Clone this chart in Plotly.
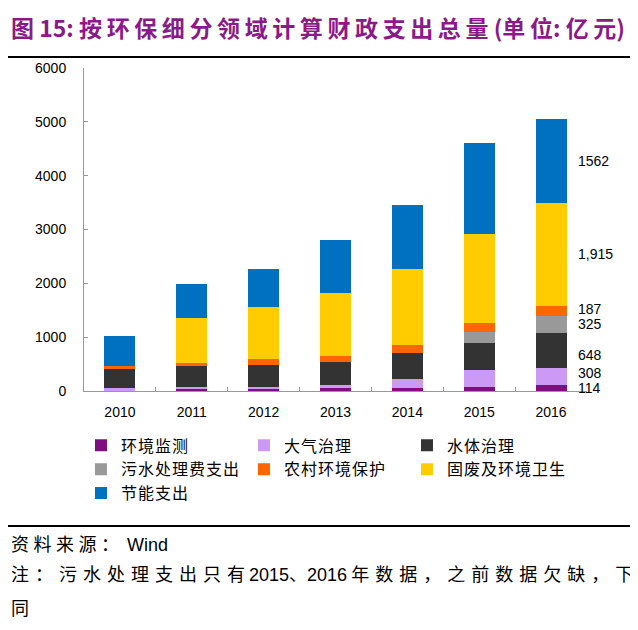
import plotly.graph_objects as go

years = ["2010", "2011", "2012", "2013", "2014", "2015", "2016"]

# 亿元 (2016 from the printed labels)
env_monitor = [18, 30, 50, 55, 65, 75, 114]
air = [32, 45, 25, 65, 160, 310, 308]
water = [355, 395, 415, 420, 480, 510, 648]
sewage_fee = [0, 0, 0, 0, 0, 195, 325]
rural = [55, 55, 110, 110, 155, 165, 187]
solid_waste = [0, 825, 960, 1175, 1410, 1655, 1915]
energy = [557, 640, 715, 980, 1190, 1695, 1562]

labels_2016 = ["114", "308", "648", "325", "187", "1,915", "1562"]
label_nudge = [0, 4, -4, 1, 2, 0, 0]  # px, hand tweaks like the original

series = [
    ("环境监测", env_monitor, "#7F0F80"),
    ("大气治理", air, "#CC99F5"),
    ("水体治理", water, "#333333"),
    ("污水处理费支出", sewage_fee, "#999999"),
    ("农村环境保护", rural, "#FF6600"),
    ("固废及环境卫生", solid_waste, "#FFCC00"),
    ("节能支出", energy, "#0070C0"),
]

CJK = "Noto Sans CJK SC"
LAT = "Liberation Sans"


def spaced(s, gap="\u2009"):
    # loosen CJK text a little, the source uses wide letter spacing
    return gap.join(s)


fig = go.Figure()
for name, vals, color in series:
    fig.add_trace(go.Bar(x=years, y=vals, name=spaced(name, "\u200a"),
                         marker_color=color, marker_line_width=0))

# value labels beside the 2016 bar (category axis -> use the index)
last = len(years) - 1
base = 0
for (name, vals, color), lab, dy in zip(series, labels_2016, label_nudge):
    v = vals[-1]
    fig.add_annotation(x=last, y=base + v / 2, text=lab, showarrow=False,
                       xanchor="left", yanchor="middle", xshift=25, yshift=dy,
                       font=dict(family=LAT, size=14, color="black"))
    base += v

# title, separator lines and footer
title = "图 15: " + spaced("按环保细分领域计算财政支出总量") + " (" + spaced("单位") + ": " + spaced("亿元") + ")"
fig.add_annotation(xref="paper", yref="paper", x=-0.149, y=1.127,
                   text="<b>" + title + "</b>",
                   showarrow=False, xanchor="left", yanchor="middle",
                   font=dict(family=CJK, size=23, color="#8B1A89"))
for yy in [1.034, -0.418]:
    fig.add_shape(type="line", xref="paper", yref="paper", x0=-0.167, x1=1.09,
                  y0=yy, y1=yy, line=dict(color="black", width=2))
fig.add_annotation(xref="paper", yref="paper", x=-0.149, y=-0.471,
                   text=spaced("资料来源：", "\u2005") + "  <span style='font-family:Liberation Sans'>Wind</span>",
                   showarrow=False, xanchor="left", yanchor="middle",
                   font=dict(family=CJK, size=18, color="black"))
fig.add_annotation(xref="paper", yref="paper", x=-0.149, y=-0.563,
                   text=spaced("注：污水处理支出只有", "\u2004")
                        + " <span style='font-family:Liberation Sans'>2015</span>、"
                        + "<span style='font-family:Liberation Sans'>2016</span> "
                        + spaced("年数据，之前数据欠缺，下", "\u2004"),
                   showarrow=False, xanchor="left", yanchor="middle",
                   font=dict(family=CJK, size=18, color="black"))
fig.add_annotation(xref="paper", yref="paper", x=-0.149, y=-0.669,
                   text="同", showarrow=False, xanchor="left", yanchor="middle",
                   font=dict(family=CJK, size=18, color="black"))

# the page sits 8px in from the window corner, so the figure is 8px smaller
fig.update_layout(
    width=630, height=622,
    margin=dict(l=76, r=51, t=60, b=239, autoexpand=False),
    barmode="stack", bargap=0.57,
    paper_bgcolor="white", plot_bgcolor="white",
    font=dict(family=LAT, size=14, color="black"),
    showlegend=True,
    legend=dict(orientation="h", x=-0.006, y=-0.116, xanchor="left", yanchor="top",
                entrywidth=118, entrywidthmode="pixels", traceorder="normal",
                bgcolor="rgba(0,0,0,0)",
                font=dict(family=CJK, size=16, color="black"),
                itemwidth=30, tracegroupgap=0),
    xaxis=dict(type="category", range=[-0.5, len(years) - 0.5],
               showline=True, linecolor="#999999", linewidth=1,
               ticks="inside", tickson="boundaries", ticklen=4, tickcolor="#999999",
               showgrid=False, ticklabelstandoff=8, tickfont=dict(family=LAT, size=14)),
    yaxis=dict(range=[0, 6000], dtick=1000, showline=True, linecolor="#999999",
               linewidth=1, ticks="inside", ticklen=4, tickcolor="#999999",
               showgrid=False, zeroline=False, ticklabelstandoff=14,
               tickfont=dict(family=LAT, size=14)),
)

fig.write_html("out.html")
